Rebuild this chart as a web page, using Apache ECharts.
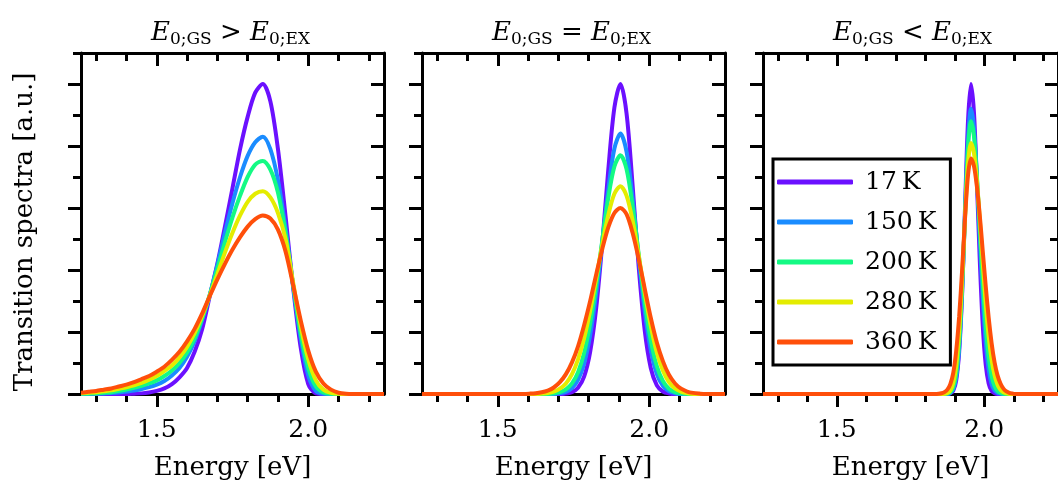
<!DOCTYPE html>
<html><head><meta charset="utf-8">
<script src="https://cdn.jsdelivr.net/npm/echarts@6/dist/echarts.min.js"></script>
<style>html,body{margin:0;padding:0;background:#fff}#c{width:1058px;height:486px}</style>
</head><body><div id="c"></div>
<script>
// ---------- data ----------
const seriesNames = ['17\u2009K', '150\u2009K', '200\u2009K', '280\u2009K', '360\u2009K'];
const seriesColors = ['#6b10ff', '#1a8cff', '#14fa84', '#e4ec00', '#ff4f0a'];
const panelTitleParts = [['0;GS', ' > ', '0;EX'], ['0;GS', ' = ', '0;EX'], ['0;GS', ' < ', '0;EX']];
const yAxisTitle = 'Transition spectra [a.u.]';
const xAxisTitle = 'Energy [eV]';
const xLabelTicks = [1.5, 2.0];
const xMinorTicks = [1.3, 1.4, 1.6, 1.7, 1.8, 1.9, 2.1, 2.2];
const yMajorTicks = [0, 1, 2, 3, 4, 5];
const yMinorTicks = [0.5, 1.5, 2.5, 3.5, 4.5, 5.5];

// Panel 1: E0;GS > E0;EX
const p1X = [1.25, 1.275, 1.30, 1.325, 1.35, 1.375, 1.40, 1.425, 1.45, 1.475, 1.50, 1.525, 1.55, 1.575, 1.60, 1.625, 1.65, 1.675, 1.70, 1.725, 1.75, 1.775, 1.80, 1.825, 1.85, 1.875, 1.90, 1.925, 1.95, 1.975, 2.00, 2.025, 2.05, 2.075, 2.10, 2.125, 2.15, 2.175, 2.20, 2.225, 2.25];
const p1K17  = [0, 0, 0, 0, 0, 0, 0, 0.005, 0.01, 0.025, 0.05, 0.09, 0.16, 0.27, 0.42, 0.68, 1.05, 1.58, 2.1, 2.7, 3.32, 3.95, 4.47, 4.86, 5.0, 4.72, 3.95, 2.87, 1.72, 0.75, 0.16, 0.01, 0, 0, 0, 0, 0, 0, 0, 0, 0];
const p1K150 = [0, 0.002, 0.005, 0.01, 0.015, 0.025, 0.04, 0.055, 0.08, 0.11, 0.15, 0.21, 0.3, 0.42, 0.6, 0.85, 1.2, 1.6, 2.08, 2.6, 3.08, 3.5, 3.84, 4.06, 4.15, 3.95, 3.45, 2.68, 1.75, 0.9, 0.3, 0.05, 0.005, 0, 0, 0, 0, 0, 0, 0, 0];
const p1K200 = [0.003, 0.006, 0.01, 0.02, 0.03, 0.05, 0.07, 0.1, 0.13, 0.17, 0.22, 0.29, 0.38, 0.5, 0.67, 0.9, 1.22, 1.6, 2.02, 2.45, 2.85, 3.2, 3.5, 3.7, 3.76, 3.62, 3.25, 2.6, 1.76, 0.98, 0.42, 0.12, 0.025, 0.003, 0, 0, 0, 0, 0, 0, 0];
const p1K280 = [0.01, 0.02, 0.03, 0.045, 0.06, 0.085, 0.11, 0.14, 0.18, 0.23, 0.29, 0.37, 0.46, 0.59, 0.76, 0.98, 1.26, 1.59, 1.93, 2.28, 2.6, 2.88, 3.1, 3.23, 3.27, 3.17, 2.92, 2.5, 1.8, 1.1, 0.56, 0.22, 0.07, 0.018, 0.003, 0, 0, 0, 0, 0, 0];
const p1K360 = [0.02, 0.035, 0.05, 0.07, 0.09, 0.12, 0.15, 0.19, 0.24, 0.29, 0.36, 0.44, 0.55, 0.68, 0.85, 1.05, 1.3, 1.58, 1.85, 2.1, 2.33, 2.53, 2.7, 2.82, 2.88, 2.83, 2.65, 2.3, 1.76, 1.19, 0.7, 0.36, 0.17, 0.07, 0.02, 0.003, 0, 0, 0, 0, 0];

// Panel 2: E0;GS = E0;EX
const p2X = [1.25, 1.585, 1.605, 1.625, 1.645, 1.665, 1.685, 1.705, 1.725, 1.745, 1.765, 1.785, 1.805, 1.825, 1.845, 1.865, 1.885, 1.905, 1.925, 1.945, 1.965, 1.985, 2.005, 2.025, 2.045, 2.065, 2.085, 2.105, 2.125, 2.145, 2.165, 2.185, 2.205, 2.25];
const p2K17  = [0, 0, 0, 0, 0, 0, 0, 0, 0.008, 0.03, 0.1, 0.28, 0.68, 1.39, 2.43, 3.63, 4.62, 5.0, 4.53, 3.37, 2.06, 1.03, 0.42, 0.14, 0.04, 0.009, 0, 0, 0, 0, 0, 0, 0, 0];
const p2K150 = [0, 0, 0, 0, 0, 0, 0, 0.011, 0.034, 0.094, 0.23, 0.49, 0.95, 1.62, 2.46, 3.31, 3.96, 4.2, 3.91, 3.16, 2.21, 1.34, 0.71, 0.32, 0.13, 0.044, 0.013, 0, 0, 0, 0, 0, 0, 0];
const p2K200 = [0, 0, 0, 0, 0, 0, 0.01, 0.029, 0.074, 0.17, 0.35, 0.66, 1.14, 1.76, 2.48, 3.17, 3.67, 3.85, 3.63, 3.03, 2.26, 1.49, 0.87, 0.45, 0.21, 0.086, 0.031, 0.01, 0, 0, 0, 0, 0, 0];
const p2K280 = [0, 0, 0, 0, 0.007, 0.017, 0.04, 0.087, 0.17, 0.32, 0.56, 0.9, 1.34, 1.87, 2.41, 2.89, 3.23, 3.35, 3.2, 2.8, 2.24, 1.64, 1.1, 0.67, 0.38, 0.19, 0.09, 0.039, 0.015, 0, 0, 0, 0, 0];
const p2K360 = [0, 0.002, 0.006, 0.013, 0.028, 0.056, 0.105, 0.19, 0.32, 0.51, 0.77, 1.11, 1.5, 1.93, 2.34, 2.69, 2.92, 3.0, 2.9, 2.6, 2.18, 1.7, 1.23, 0.83, 0.53, 0.31, 0.17, 0.086, 0.04, 0.018, 0.007, 0, 0, 0];

// Panel 3: E0;GS < E0;EX
const p3X = [1.25, 1.835, 1.845, 1.855, 1.865, 1.875, 1.885, 1.895, 1.905, 1.915, 1.925, 1.935, 1.945, 1.955, 1.965, 1.975, 1.985, 1.995, 2.005, 2.015, 2.025, 2.035, 2.045, 2.055, 2.065, 2.075, 2.085, 2.095, 2.105, 2.115, 2.125, 2.25];
const p3K17  = [0, 0, 0, 0, 0, 0, 0.011, 0.055, 0.22, 0.68, 1.62, 3.03, 4.41, 5.0, 4.55, 3.43, 2.14, 1.1, 0.47, 0.17, 0.05, 0.012, 0, 0, 0, 0, 0, 0, 0, 0, 0, 0];
const p3K150 = [0, 0, 0, 0, 0, 0, 0.018, 0.078, 0.27, 0.75, 1.66, 2.92, 4.11, 4.6, 4.3, 3.5, 2.48, 1.54, 0.83, 0.39, 0.16, 0.057, 0.018, 0.005, 0, 0, 0, 0, 0, 0, 0, 0];
const p3K200 = [0, 0, 0, 0, 0, 0.006, 0.028, 0.11, 0.33, 0.84, 1.74, 2.91, 3.97, 4.4, 4.16, 3.52, 2.67, 1.81, 1.1, 0.6, 0.29, 0.13, 0.049, 0.017, 0.005, 0, 0, 0, 0, 0, 0, 0];
const p3K280 = [0, 0, 0, 0, 0.004, 0.016, 0.058, 0.18, 0.46, 1.01, 1.85, 2.86, 3.71, 4.05, 3.89, 3.44, 2.81, 2.11, 1.46, 0.93, 0.55, 0.3, 0.15, 0.068, 0.029, 0.011, 0, 0, 0, 0, 0, 0];
const p3K360 = [0, 0, 0.004, 0.012, 0.03, 0.07, 0.16, 0.34, 0.7, 1.25, 2.0, 2.85, 3.53, 3.8, 3.68, 3.35, 2.87, 2.3, 1.74, 1.23, 0.82, 0.51, 0.3, 0.17, 0.087, 0.042, 0.019, 0.008, 0, 0, 0, 0];

const panelX = [p1X, p2X, p3X];
const panelY = [[p1K17, p1K150, p1K200, p1K280, p1K360],
                [p2K17, p2K150, p2K200, p2K280, p2K360],
                [p3K17, p3K150, p3K200, p3K280, p3K360]];

// ---------- layout / style ----------
const FONT = 'DejaVu Serif';
const gridLefts = [81, 422, 763];
const GRID_TOP = 53, GRID_W = 303, GRID_H = 341;
const AX = { color: '#000', width: 3 };

const grids = gridLefts.map(l => ({ left: l, top: GRID_TOP, width: GRID_W, height: GRID_H }));

const xAxes = [], yAxes = [];
gridLefts.forEach((_, g) => {
  const base = { type: 'value', gridIndex: g, min: 1.25, max: 2.25, splitLine: { show: false } };
  xAxes.push(Object.assign({}, base, {
    position: 'bottom',
    axisLine: { show: true, onZero: false, lineStyle: AX },
    axisTick: { show: true, customValues: xLabelTicks, length: 13, inside: false, lineStyle: AX },
    axisLabel: { show: true, customValues: xLabelTicks, formatter: v => v.toFixed(1), fontFamily: FONT, fontSize: 25, color: '#000', margin: 24 },
    name: xAxisTitle, nameLocation: 'middle', nameGap: 61,
    nameTextStyle: { fontFamily: FONT, fontSize: 26, color: '#000' }
  }));
  xAxes.push(Object.assign({}, base, {
    position: 'bottom',
    axisLine: { show: false, onZero: false },
    axisTick: { show: true, customValues: xMinorTicks, length: 8, inside: false, lineStyle: AX },
    axisLabel: { show: false }
  }));
  xAxes.push(Object.assign({}, base, {
    position: 'top',
    axisLine: { show: true, onZero: false, lineStyle: AX },
    axisTick: { show: true, customValues: xLabelTicks, length: 13, inside: true, lineStyle: AX },
    axisLabel: { show: false }
  }));
  xAxes.push(Object.assign({}, base, {
    position: 'top',
    axisLine: { show: false, onZero: false },
    axisTick: { show: true, customValues: xMinorTicks, length: 8, inside: true, lineStyle: AX },
    axisLabel: { show: false }
  }));

  const ybase = { type: 'value', gridIndex: g, min: 0, max: 5.5, splitLine: { show: false }, axisLabel: { show: false } };
  yAxes.push(Object.assign({}, ybase, {
    position: 'left',
    axisLine: { show: true, onZero: false, lineStyle: AX },
    axisTick: { show: true, customValues: yMajorTicks, length: 13, inside: false, lineStyle: AX }
  }));
  yAxes.push(Object.assign({}, ybase, {
    position: 'left',
    axisLine: { show: false, onZero: false },
    axisTick: { show: true, customValues: yMinorTicks, length: 8, inside: false, lineStyle: AX }
  }));
  yAxes.push(Object.assign({}, ybase, {
    position: 'right',
    axisLine: { show: true, onZero: false, lineStyle: AX },
    axisTick: { show: true, customValues: yMajorTicks, length: 13, inside: true, lineStyle: AX }
  }));
  yAxes.push(Object.assign({}, ybase, {
    position: 'right',
    axisLine: { show: false, onZero: false },
    axisTick: { show: true, customValues: yMinorTicks, length: 8, inside: true, lineStyle: AX }
  }));
});

const series = [];
panelY.forEach((curves, g) => {
  curves.forEach((ys, k) => {
    series.push({
      type: 'line', name: seriesNames[k],
      xAxisIndex: 4 * g, yAxisIndex: 4 * g,
      data: panelX[g].map((x, i) => [x, ys[i]]),
      symbol: 'none', showSymbol: false, smooth: 0.3,
      lineStyle: { width: 4, color: seriesColors[k] },
      itemStyle: { color: seriesColors[k] },
      color: seriesColors[k],
      z: 3 + k
    });
  });
});

const titleRich = {
  e: { fontFamily: FONT, fontStyle: 'italic', fontWeight: 'normal', fontSize: 26, lineHeight: 30, color: '#000' },
  o: { fontFamily: FONT, fontWeight: 'normal', fontSize: 26, lineHeight: 30, color: '#000' },
  s: { fontFamily: FONT, fontWeight: 'normal', fontSize: 17, lineHeight: 17, verticalAlign: 'bottom', color: '#000' }
};
const titles = panelTitleParts.map((p, g) => ({
  text: '{e|E}{s|' + p[0] + '}{o|' + p[1] + '}{e|E}{s|' + p[2] + '}',
  left: gridLefts[g] + GRID_W / 2 - 7, top: 13, textAlign: 'center',
  textStyle: { fontFamily: FONT, fontWeight: 'normal', fontSize: 26, lineHeight: 30, rich: titleRich }
}));

const chart = echarts.init(document.getElementById('c'), null, { renderer: 'canvas' });
chart.setOption({
  animation: false,
  backgroundColor: '#fff',
  title: titles,
  grid: grids,
  xAxis: xAxes,
  yAxis: yAxes,
  graphic: [{
    type: 'text', x: 25, y: 232, rotation: Math.PI / 2,
    style: { text: yAxisTitle, fontFamily: FONT, fontSize: 26, fill: '#000', align: 'center', verticalAlign: 'middle' }
  }],
  legend: {
    data: seriesNames, orient: 'vertical', left: 773, top: 159,
    icon: 'roundRect',
    itemWidth: 76, itemHeight: 5, itemGap: 10,
    padding: [8, 14, 8, 4],
    borderColor: '#000', borderWidth: 3, backgroundColor: '#fff',
    textStyle: { fontFamily: FONT, fontSize: 25, lineHeight: 30, color: '#000', padding: [0, 0, 0, 7] }
  },
  series: series
});
</script></body></html>
